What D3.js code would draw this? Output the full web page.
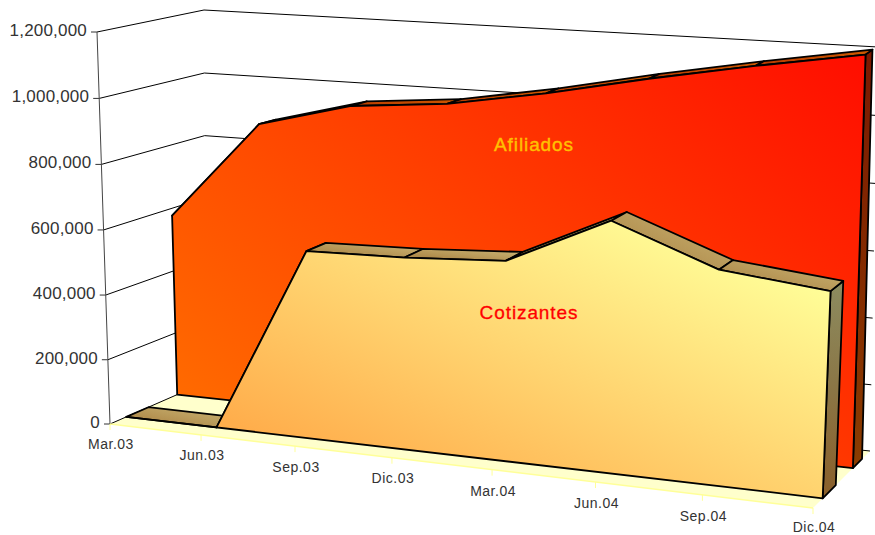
<!DOCTYPE html>
<html><head><meta charset="utf-8">
<script src="https://cdn.jsdelivr.net/npm/d3@7"></script>
<style>html,body{margin:0;padding:0;background:#fff}svg{display:block}text{font-family:"Liberation Sans",Arial,sans-serif}</style>
</head><body><svg id="c" width="875" height="535"></svg>
<script>
const categories=["Mar.03","Jun.03","Sep.03","Dic.03","Mar.04","Jun.04","Sep.04","Dic.04"];
const afiliados=[574000,883000,959000,985000,1036000,1098000,1154000,1205000];
const cotizantes=[0,0,570000,577000,594000,737000,623000,590000];
const yTicks=[0,200000,400000,600000,800000,1000000,1200000];
const W=875,H=535;
const svg=d3.select("#c");
const defs=svg.append("defs");
// Projection of the chart box: unit cube -> screen, with perspective along both visible axes
const floorC={fl:[110,424],bl:[206,382],br:[870,451],fr:[813,508]};
const topC={fl:[97,32],bl:[204,10],br:[878,47],fr:[829,78]};
const xBand=d3.scalePoint().domain(categories).range([0,1]);
const persp=1.12,perspY=1.02,leanK=26;
const xS=c=>{const t=xBand(c);return t/(persp+(1-persp)*t);};
const yLin=d3.scaleLinear().domain([0,1200000]).range([0,1]);
const yS=d=>{const t=yLin(d);return t/(perspY+(1-perspY)*t);};
const lerp=(a,b,t)=>[a[0]+(b[0]-a[0])*t,a[1]+(b[1]-a[1])*t];
function P(u,v,w){
  const bf=lerp(floorC.fl,floorC.fr,u),bb=lerp(floorC.bl,floorC.br,u);
  const tf=lerp(topC.fl,topC.fr,u),tb=lerp(topC.bl,topC.br,u);
  const p=lerp(lerp(bf,bb,w),lerp(tf,tb,w),v);
  p[0]-=leanK*v*w*(1-w)*(1-1.4*u);
  return p;
}
const line=d3.line();
const poly=pts=>line(pts)+"Z";
function grad(id,x1,y1,x2,y2,stops,user){
  const g=defs.append("linearGradient").attr("id",id).attr("x1",x1).attr("y1",y1).attr("x2",x2).attr("y2",y2);
  if(user)g.attr("gradientUnits","userSpaceOnUse");
  stops.forEach(([o,c])=>g.append("stop").attr("offset",o).attr("stop-color",c));
}
grad("gOrange",177,392,645,-141,[[0,"#ff6a00"],[1,"#ff0d00"]],true);
grad("gYellow",240,425,386,89,[[0,"#ffae4c"],[1,"#ffff99"]],true);
grad("gTan",0,1,1,0,[[0,"#a67c3c"],[1,"#ccb878"]]);
grad("gYSide",0,1,0,0,[[0,"#8a5f2a"],[1,"#8c8c60"]]);
grad("gOStrip",0,1,1,0,[[0,"#b83800"],[1,"#d05c00"]]);
grad("gOSide",0,1,0,0,[[0,"#8a3c00"],[1,"#7c1800"]]);

// floor
svg.append("path").attr("d",poly([P(0,0,0),P(1,0,0),P(1,0,1),P(0,0,1)])).attr("fill","#ffffcc");
// wall gridlines
yTicks.forEach(t=>{
  const v=yS(t);
  svg.append("path").attr("d",line([P(0,v,0),P(0,v,1),P(1,v,1)])).attr("fill","none").attr("stroke","#000").attr("stroke-width",1);
  const a=P(0,v,0);
  svg.append("line").attr("x1",a[0]-6).attr("y1",a[1]).attr("x2",a[0]).attr("y2",a[1]).attr("stroke","#333").attr("stroke-width",1);
  svg.append("text").attr("x",a[0]-10).attr("y",a[1]-2).attr("dy","0.35em").attr("text-anchor","end")
    .attr("font-size",17).attr("letter-spacing",0.2).attr("fill","#333").text(d3.format(",")(t));
});
svg.append("path").attr("d",line([P(0,0,0),P(0,yS(1200000),0)])).attr("fill","none").attr("stroke","#444").attr("stroke-width",1);
// x ticks and labels
categories.forEach(c=>{
  const u=xS(c),a=P(u,0,0);
  svg.append("line").attr("x1",a[0]).attr("y1",a[1]).attr("x2",a[0]).attr("y2",a[1]+6).attr("stroke","#ffff99").attr("stroke-width",1);
  svg.append("text").attr("x",a[0]+1).attr("y",Math.min(a[1]+20+2*u,527)).attr("dy","0.35em").attr("text-anchor","middle")
    .attr("font-size",14).attr("letter-spacing",0.5).attr("fill","#333").text(c);
});
svg.append("path").attr("d",line([P(0,0,0),P(1,0,0)])).attr("fill","none").attr("stroke","#ffff99").attr("stroke-width",1.5);

function drawSeries(vals,wF,wB,face,strip,side){
  const us=categories.map(xS);
  const g=svg.append("g").attr("stroke","#000").attr("stroke-width",1.8).attr("stroke-linejoin","round");
  const n=vals.length-1;
  g.append("path").attr("d",poly([P(1,0,wF),P(1,0,wB),P(1,yS(vals[n]),wB),P(1,yS(vals[n]),wF)])).attr("fill",`url(#${side})`);
  vals.forEach((v,i)=>{
    if(i===n)return;
    g.append("path").attr("d",poly([P(us[i],yS(v),wF),P(us[i+1],yS(vals[i+1]),wF),P(us[i+1],yS(vals[i+1]),wB),P(us[i],yS(v),wB)])).attr("fill",`url(#${strip})`);
  });
  const top=vals.map((v,i)=>P(us[i],yS(v),wF));
  g.append("path").attr("d",poly([P(0,0,wF),...top,P(1,0,wF)])).attr("fill",`url(#${face})`);
}
drawSeries(afiliados,0.70,0.86,"gOrange","gOStrip","gOSide");
drawSeries(cotizantes,0.17,0.40,"gYellow","gTan","gYSide");

svg.append("text").attr("x",534).attr("y",144).attr("dy","0.35em").attr("text-anchor","middle").attr("font-size",19).attr("letter-spacing",0.9)
  .attr("fill","#ffc000").attr("stroke","#ffc000").attr("stroke-width",0.4).text("Afiliados");
svg.append("text").attr("x",529).attr("y",312).attr("dy","0.35em").attr("text-anchor","middle").attr("font-size",19).attr("letter-spacing",0.9)
  .attr("fill","#ff0000").attr("stroke","#ff0000").attr("stroke-width",0.3).text("Cotizantes");
</script></body></html>
